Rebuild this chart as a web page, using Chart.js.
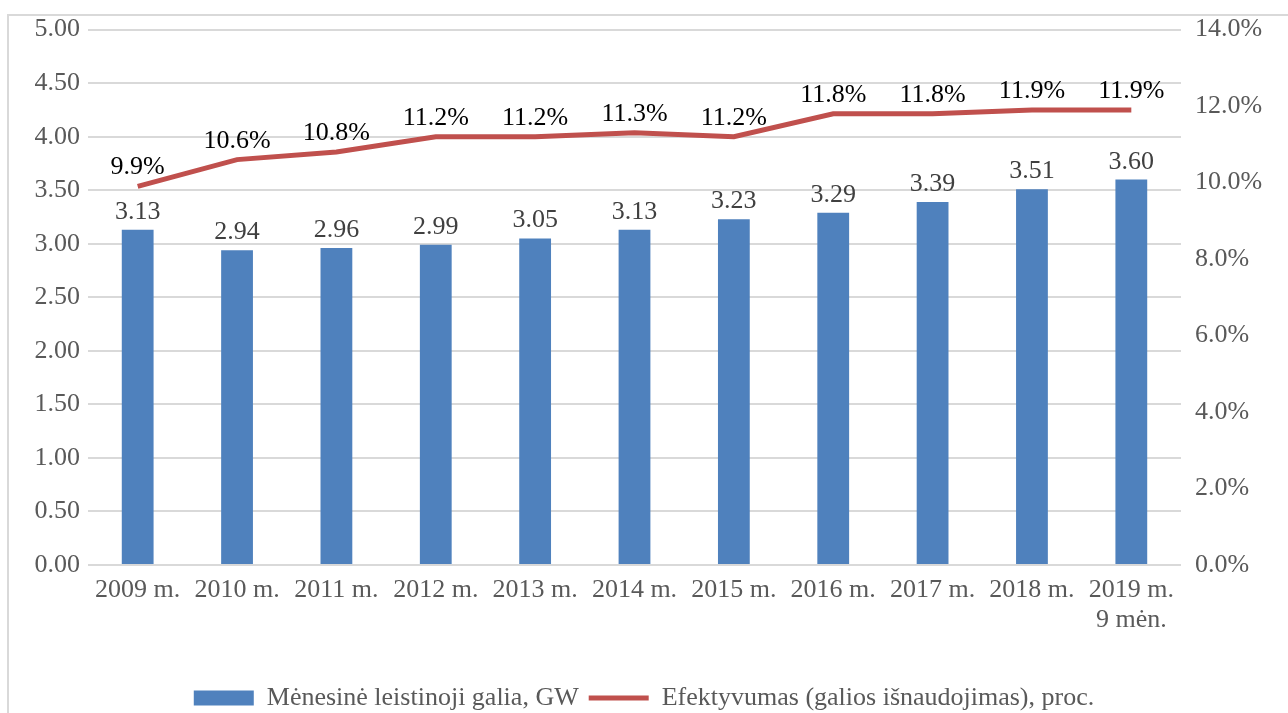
<!DOCTYPE html>
<html>
<head>
<meta charset="utf-8">
<script src="https://cdn.jsdelivr.net/npm/chart.js@4.4.1/dist/chart.umd.min.js"></script>
<style>
    html, body { margin: 0; padding: 0; background: #fff; overflow: hidden; }
    #frame { position: absolute; left: 7px; top: 14px; width: 1400px; height: 800px;
             border-left: 2px solid #d9d9d9; border-top: 2px solid #d9d9d9; }
    #chart { position: absolute; left: 0; top: 0; }
</style>
</head>
<body>
<div id="frame"></div>
<canvas id="chart" width="1288" height="713"></canvas>
<script>
// ===== 数据 =====
const categories = ['2009 m.', '2010 m.', '2011 m.', '2012 m.', '2013 m.', '2014 m.',
    '2015 m.', '2016 m.', '2017 m.', '2018 m.', ['2019 m.', '9 mėn.']];
const powerValues = [3.13, 2.94, 2.96, 2.99, 3.05, 3.13, 3.23, 3.29, 3.39, 3.51, 3.60];
const efficiencyValues = [9.9, 10.6, 10.8, 11.2, 11.2, 11.3, 11.2, 11.8, 11.8, 11.9, 11.9];
const leftTicks = [0, 0.5, 1, 1.5, 2, 2.5, 3, 3.5, 4, 4.5, 5];
const rightTicks = [0, 2, 4, 6, 8, 10, 12, 14];

const barColor = '#4F81BD';
const lineColor = '#C0504D';

Chart.defaults.font.family = "'Liberation Serif', 'Times New Roman', serif";
Chart.defaults.font.size = 26;
Chart.defaults.color = '#595959';

// 数据标签
const valueLabels = {
    id: 'valueLabels',
    afterDatasetsDraw(chart) {
        const ctx = chart.ctx;
        ctx.save();
        ctx.font = "26px 'Liberation Serif', 'Times New Roman', serif";
        ctx.textAlign = 'center';
        ctx.textBaseline = 'alphabetic';
        chart.data.datasets.forEach((ds, i) => {
            const meta = chart.getDatasetMeta(i);
            meta.data.forEach((el, j) => {
                if (ds.type === 'line') {
                    ctx.fillStyle = '#000000';
                    ctx.fillText(ds.data[j].toFixed(1) + '%', el.x, el.y - 12);
                } else {
                    ctx.fillStyle = '#404040';
                    ctx.fillText(ds.data[j].toFixed(2), el.x, el.y - 11);
                }
            });
        });
        ctx.restore();
    }
};

new Chart(document.getElementById('chart'), {
    type: 'bar',
    data: {
        labels: categories,
        datasets: [
            {
                type: 'bar',
                label: 'Mėnesinė leistinoji galia, GW',
                data: powerValues,
                backgroundColor: barColor,
                borderWidth: 0,
                pointStyle: 'rect',
                yAxisID: 'y',
                categoryPercentage: 1,
                barPercentage: 0.32
            },
            {
                type: 'line',
                label: 'Efektyvumas (galios išnaudojimas), proc.',
                data: efficiencyValues,
                borderColor: lineColor,
                backgroundColor: lineColor,
                borderWidth: 5,
                pointRadius: 0,
                pointStyle: 'line',
                tension: 0,
                yAxisID: 'y1'
            }
        ]
    },
    options: {
        responsive: false,
        animation: false,
        layout: { padding: { top: 28, bottom: -8, left: 0, right: 0 } },
        plugins: {
            tooltip: { enabled: false },
            legend: {
                position: 'bottom',
                labels: {
                    usePointStyle: true,
                    pointStyleWidth: 60,
                    boxHeight: 15,
                    padding: 10,
                    color: '#595959',
                    font: { size: 26 }
                }
            }
        },
        scales: {
            x: {
                offset: true,
                grid: { display: false },
                border: { display: false },
                ticks: { padding: 3, color: '#595959', font: { size: 26, lineHeight: 1.12 }, maxRotation: 0 },
                afterFit(scale) { scale.height = 110; }
            },
            y: {
                position: 'left',
                min: 0,
                max: 5,
                afterBuildTicks(scale) { scale.ticks = leftTicks.map(v => ({ value: v })); },
                ticks: {
                    padding: 8,
                    color: '#595959',
                    callback: v => v.toFixed(2)
                },
                grid: { color: '#d9d9d9', lineWidth: 2, drawTicks: false },
                border: { display: false },
                afterFit(scale) { scale.width = 88; }
            },
            y1: {
                position: 'right',
                min: 0,
                max: 14,
                afterBuildTicks(scale) { scale.ticks = rightTicks.map(v => ({ value: v })); },
                ticks: {
                    padding: 14,
                    color: '#595959',
                    callback: v => v.toFixed(1) + '%'
                },
                grid: { drawOnChartArea: false, drawTicks: false },
                border: { display: false },
                afterFit(scale) { scale.width = 107; }
            }
        }
    },
    plugins: [valueLabels]
});
</script>
</body>
</html>
